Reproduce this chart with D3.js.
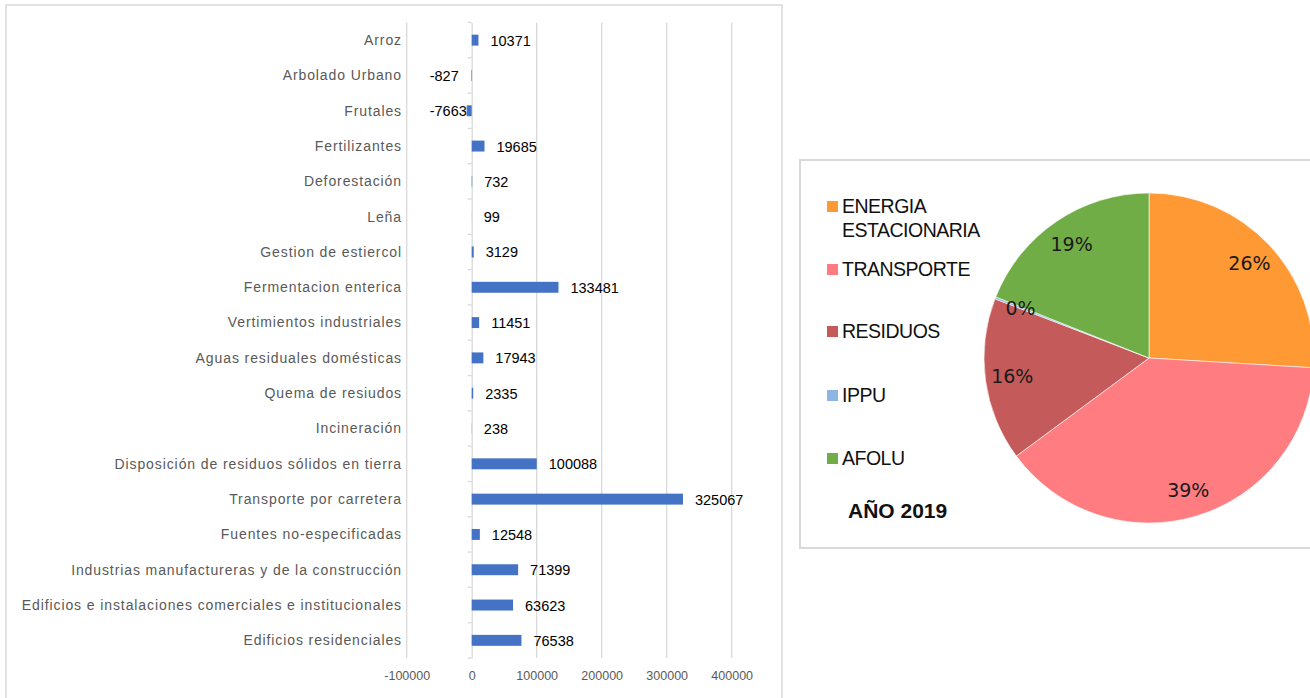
<!DOCTYPE html>
<html>
<head>
<meta charset="utf-8">
<script src="https://cdn.jsdelivr.net/npm/d3@7/dist/d3.min.js"></script>
<style>
  html, body { margin: 0; padding: 0; background: #fff; }
  svg { display: block; }
</style>
</head>
<body>
<svg id="chart" width="1310" height="698"></svg>
<script>
// ---- Data ----
const categories = [
  "Arroz", "Arbolado Urbano", "Frutales", "Fertilizantes", "Deforestación", "Leña",
  "Gestion de estiercol", "Fermentacion enterica", "Vertimientos industriales",
  "Aguas residuales domésticas", "Quema de resiudos", "Incineración",
  "Disposición de residuos sólidos en tierra", "Transporte por carretera",
  "Fuentes no-especificadas", "Industrias manufactureras y de la construcción",
  "Edificios e instalaciones comerciales e institucionales", "Edificios residenciales"
];
const values = [10371, -827, -7663, 19685, 732, 99, 3129, 133481, 11451, 17943, 2335, 238,
  100088, 325067, 12548, 71399, 63623, 76538];
const xTicks = [-100000, 0, 100000, 200000, 300000, 400000];

const pieLabels = ["ENERGIA ESTACIONARIA", "TRANSPORTE", "RESIDUOS", "IPPU", "AFOLU"];
const pieValues = [26, 39, 16, 0.2, 19];
const pieColors = ["#FF9933", "#FF7C80", "#C55A5A", "#8EB4E3", "#70AD47"];
const pieTitle = "AÑO 2019";

const svg = d3.select("#chart");

// ---- Left panel border ----
svg.append("rect").attr("x", 6).attr("y", 5).attr("width", 776).attr("height", 710)
  .attr("fill", "none").attr("stroke", "#d9d9d9").attr("stroke-width", 1.5);

// ---- Bar chart ----
const x = d3.scaleLinear().domain([-100000, 400000]).range([406.7, 731.7]);
const y = d3.scaleBand().domain(categories).range([22.5, 658]).paddingInner(0.69).paddingOuter(0.345);
const step = y.step();

// gridlines
svg.append("g").selectAll("line").data(xTicks.filter(d => d !== 0)).join("line")
  .attr("x1", d => x(d)).attr("x2", d => x(d))
  .attr("y1", 22.5).attr("y2", 658)
  .attr("stroke", "#d9d9d9").attr("stroke-width", 1.3);

// x axis tick labels
const xAxis = d3.axisBottom(x).tickValues(xTicks).tickSize(0).tickPadding(0)
  .tickFormat(d => String(d));
const gx = svg.append("g").attr("transform", "translate(0,671)").call(xAxis);
gx.select(".domain").remove();
gx.selectAll("text").attr("fill", "#595959").style("font-family", "'Liberation Sans', Arial, sans-serif")
  .style("font-size", "12.5px");

// zero axis
const yAxis = d3.axisLeft(y).tickSize(0).tickFormat("");
const gy = svg.append("g").attr("transform", `translate(${x(0)},0)`).call(yAxis);
gy.select(".domain").attr("stroke", "#d9d9d9").attr("stroke-width", 1.3);
gy.selectAll(".tick").remove();
// small ticks at band boundaries
const bounds = d3.range(categories.length + 1).map(i => 22.5 + i * step);
svg.append("g").selectAll("line").data(bounds).join("line")
  .attr("x1", x(0) - 4).attr("x2", x(0))
  .attr("y1", d => d).attr("y2", d => d)
  .attr("stroke", "#d9d9d9").attr("stroke-width", 1.3);

// category labels
svg.append("g").selectAll("text").data(categories).join("text")
  .attr("x", 402).attr("y", d => y(d) + y.bandwidth() / 2)
  .attr("dy", "0.35em").attr("text-anchor", "end")
  .attr("fill", "#595959")
  .style("font-family", "'Liberation Sans', Arial, sans-serif").style("font-size", "14px")
  .style("letter-spacing", "0.9px")
  .text(d => d);

// bars
svg.append("g").selectAll("rect").data(values).join("rect")
  .attr("x", d => x(Math.min(0, d)))
  .attr("y", (d, i) => y(categories[i]))
  .attr("width", d => Math.abs(x(d) - x(0)))
  .attr("height", y.bandwidth())
  .attr("fill", "#4472C4");

// value labels
svg.append("g").selectAll("text").data(values).join("text")
  .attr("x", d => d >= 0 ? x(d) + 12 : x(0) - 42)
  .attr("y", (d, i) => y(categories[i]) + y.bandwidth() / 2)
  .attr("dy", "0.38em")
  .attr("text-anchor", "start")
  .attr("fill", "#000")
  .style("font-family", "'Liberation Sans', Arial, sans-serif").style("font-size", "14.5px")
  .text(d => d);

// ---- Pie panel ----
svg.append("rect").attr("x", 800).attr("y", 160).attr("width", 560).attr("height", 388)
  .attr("fill", "#fff").attr("stroke", "#d9d9d9").attr("stroke-width", 2);

const cx = 1149, cy = 358, r = 165;
const pie = d3.pie().sort(null).value(d => d)(pieValues);
const arc = d3.arc().innerRadius(0).outerRadius(r);
const labelArc = d3.arc().innerRadius(138).outerRadius(138);
const gp = svg.append("g").attr("transform", `translate(${cx},${cy})`);
gp.selectAll("path").data(pie).join("path")
  .attr("d", arc).attr("fill", (d, i) => pieColors[i])
  .attr("stroke", "#fff").attr("stroke-width", 0.6);

const total = d3.sum(pieValues);
gp.selectAll("text").data(pie).join("text")
  .attr("transform", d => `translate(${labelArc.centroid(d)})`)
  .attr("text-anchor", "middle").attr("dy", "0.36em")
  .attr("fill", "#1a1a1a")
  .style("font-family", "'DejaVu Sans', Verdana, sans-serif").style("font-size", "19px")
  .text(d => Math.round(d.data / total * 100) + "%");

// legend
const legendY = [[213, 237], [276], [338], [402], [465]];
const lg = svg.append("g");
pieLabels.forEach((lab, i) => {
  const lines = i === 0 ? ["ENERGIA", "ESTACIONARIA"] : [lab];
  const base = legendY[i][0];
  lg.append("rect").attr("x", 827).attr("y", base - 12).attr("width", 11).attr("height", 11)
    .attr("fill", pieColors[i]);
  lines.forEach((ln, j) => {
    lg.append("text").attr("x", 842).attr("y", legendY[i][j])
      .attr("fill", "#111")
      .style("font-family", "'Liberation Sans', Arial, sans-serif").style("font-size", "19.5px")
      .style("letter-spacing", "-0.5px")
      .text(ln);
  });
});
lg.append("text").attr("x", 848).attr("y", 518)
  .attr("fill", "#111").style("font-weight", "bold")
  .style("font-family", "'Liberation Sans', Arial, sans-serif").style("font-size", "21px")
  .text(pieTitle);
</script>
</body>
</html>
